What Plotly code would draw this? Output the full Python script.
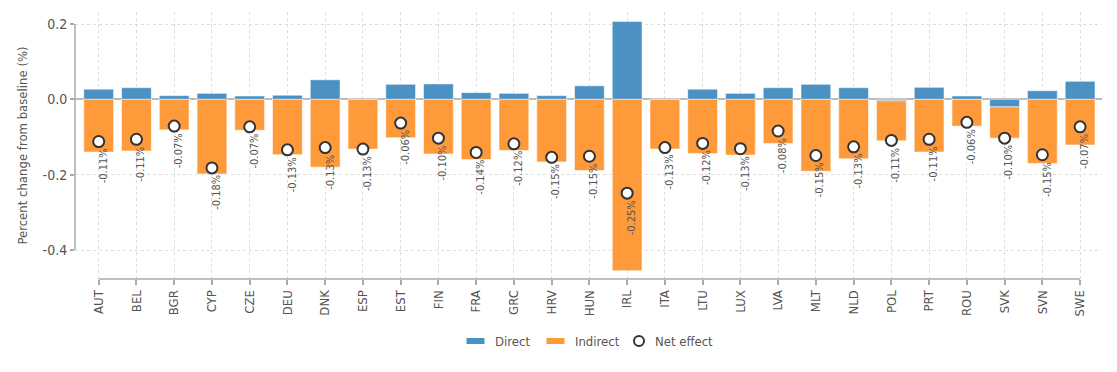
import plotly.graph_objects as go

countries = ["AUT", "BEL", "BGR", "CYP", "CZE", "DEU", "DNK", "ESP", "EST", "FIN",
             "FRA", "GRC", "HRV", "HUN", "IRL", "ITA", "LTU", "LUX", "LVA", "MLT",
             "NLD", "POL", "PRT", "ROU", "SVK", "SVN", "SWE"]
direct = [0.027, 0.031, 0.010, 0.016, 0.009, 0.011, 0.052, 0.000, 0.040, 0.041,
          0.018, 0.016, 0.010, 0.036, 0.207, 0.000, 0.027, 0.016, 0.031, 0.040,
          0.031, -0.004, 0.032, 0.009, -0.020, 0.023, 0.048]
indirect = [-0.140, -0.137, -0.081, -0.198, -0.082, -0.147, -0.180, -0.132, -0.102, -0.145,
            -0.160, -0.136, -0.166, -0.189, -0.455, -0.132, -0.144, -0.148, -0.117, -0.191,
            -0.158, -0.106, -0.140, -0.071, -0.083, -0.170, -0.121]
net = [-0.112, -0.106, -0.071, -0.182, -0.073, -0.134, -0.128, -0.132, -0.063, -0.103,
       -0.141, -0.118, -0.154, -0.151, -0.249, -0.128, -0.117, -0.131, -0.084, -0.149,
       -0.126, -0.109, -0.106, -0.061, -0.103, -0.147, -0.073]
yticks = [0.2, 0.0, -0.2, -0.4]
ytick_text = ["0.2", "0.0", "-0.2", "-0.4"]

BLUE = "#4B91C3"
ORANGE = "#FF9A3B"
GREY_TXT = "#555555"
FONT = "DejaVu Sans Condensed, Liberation Sans Narrow, Roboto, sans-serif"

OFF = 8  # page body margin
W, H = 1117 - 2 * OFF, 372 - 2 * OFF
L = 75 - OFF
T = 12 - OFF
R = W - (1102 - OFF)
B = H - (279 - OFF)
PW, PH = W - L - R, H - T - B


def px_x(px):
    # page pixel -> paper coordinate
    return (px - OFF - L) / PW


def px_y(py):
    return (H - B - (py - OFF)) / PH


fig = go.Figure()
fig.add_trace(go.Bar(x=countries, y=direct, name="Direct", marker_color=BLUE,
                     marker_line=dict(color="rgba(255,255,255,0.55)", width=1),
                     showlegend=False))
fig.add_trace(go.Bar(x=countries, y=indirect, name="Indirect", marker_color=ORANGE,
                     marker_line=dict(color="rgba(255,255,255,0.55)", width=1),
                     showlegend=False))
fig.add_trace(go.Scatter(x=countries, y=net, mode="markers", name="Net effect",
                         marker=dict(color="white", size=11,
                                     line=dict(color="#333333", width=2)),
                         showlegend=False))

annotations = []
for c, v in zip(countries, net):
    annotations.append(dict(x=c, y=v, xref="x", yref="y", text=f"{v:.2f}%",
                            showarrow=False, textangle=-90, xanchor="center",
                            yanchor="top", xshift=4.5, yshift=-5,
                            font=dict(family=FONT, size=11, color=GREY_TXT)))

shapes = []
shapes.append(dict(type="line", xref="paper", yref="y", x0=0, x1=0,
                   y0=min(yticks), y1=max(yticks),
                   line=dict(color="#aaaaaa", width=1.5)))
shapes.append(dict(type="line", xref="x", yref="paper", x0=0, x1=len(countries) - 1,
                   y0=0, y1=0, line=dict(color="#aaaaaa", width=1.5)))

leg_y = 341
legend_items = [
    ("rect", BLUE, 466.5, "Direct", 493),
    ("rect", ORANGE, 546.5, "Indirect", 573),
    ("circle", None, 634, "Net effect", 653),
]
for kind, col, sx, label, tx in legend_items:
    if kind == "rect":
        shapes.append(dict(type="rect", xref="paper", yref="paper",
                           x0=px_x(sx), x1=px_x(sx + 18), y0=px_y(leg_y + 3), y1=px_y(leg_y - 3),
                           fillcolor=col, line=dict(color=col, width=0)))
    else:
        shapes.append(dict(type="circle", xref="paper", yref="paper",
                           x0=px_x(sx), x1=px_x(sx + 10), y0=px_y(leg_y + 5), y1=px_y(leg_y - 5),
                           fillcolor="white", line=dict(color="#333333", width=2)))
    annotations.append(dict(x=px_x(tx), y=px_y(leg_y), xref="paper", yref="paper",
                            text=label, showarrow=False, xanchor="left", yanchor="middle",
                            font=dict(family=FONT, size=13, color=GREY_TXT)))

fig.update_layout(
    width=W, height=H,
    margin=dict(l=L, r=R, t=T, b=B, autoexpand=False),
    barmode="relative",
    bargap=0.21,
    plot_bgcolor="white",
    paper_bgcolor="white",
    font=dict(family=FONT, color=GREY_TXT),
    showlegend=False,
    shapes=shapes,
    annotations=annotations,
)
fig.update_xaxes(
    type="category",
    range=[-0.628, 26.58],
    showline=False,
    showgrid=True, gridcolor="#dddddd", griddash="dot", gridwidth=1,
    ticks="outside", ticklen=5, tickcolor="#aaaaaa", tickwidth=1.5,
    tickangle=-90,
    tickfont=dict(family=FONT, size=13, color=GREY_TXT),
    zeroline=False,
)
fig.update_yaxes(
    range=[-0.477, 0.232],
    tickvals=yticks, ticktext=ytick_text,
    showline=False,
    showgrid=True, gridcolor="#dddddd", griddash="dot", gridwidth=1,
    zeroline=True, zerolinecolor="#bbbbbb", zerolinewidth=1.5,
    ticks="outside", ticklen=4, tickcolor="#aaaaaa", tickwidth=1.5,
    tickfont=dict(family=FONT, size=14, color=GREY_TXT),
    title=dict(text="Percent change from baseline (%)", standoff=12,
               font=dict(family=FONT, size=13, color=GREY_TXT)),
)

fig.write_html("out.html")
